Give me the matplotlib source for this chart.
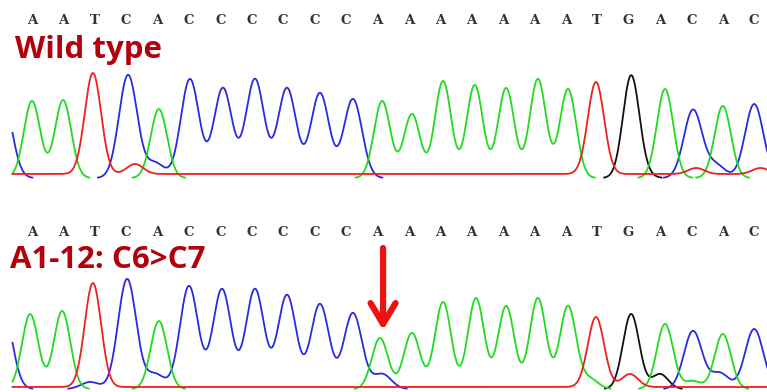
import numpy as np
import matplotlib
matplotlib.use("Agg")
import matplotlib.pyplot as plt

# secuencia leida (igual en los dos paneles)
bases = list("AATCACCCCCCAAAAAAATGACAC")

# picos de cada canal: posicion (en bases) y altura
# panel superior - wild type
wt_A_pos = [0.0, 0.99, 4.04, 11.15, 12.1, 13.09, 14.1, 15.1, 16.11, 17.07, 20.16, 22.0]
wt_A_alt = [77, 78, 69, 77, 64, 97, 93, 90, 99, 89, 89, 72]
wt_C_pos = [-0.93, 3.06, 3.92, 5.03, 6.08, 7.1, 8.12, 9.17, 10.22, 21.05, 21.78, 23.0]
wt_C_alt = [80, 103, 15, 99, 90, 99, 90, 85, 79, 68, 13, 74]
wt_G_pos = [19.08, 19.5]
wt_G_alt = [102, 3]
wt_T_pos = [1.94, 3.28, 17.96, 21.15, 23.2]
wt_T_alt = [101, 10, 92, 6, 6]
wt_T_base = 4

# panel inferior - mutante A1-12
mu_A_pos = [-0.06, 0.96, 4.04, 11.08, 12.1, 13.09, 14.14, 15.1, 16.11, 17.07, 17.77, 20.16, 21.05, 22.0]
mu_A_alt = [75, 78, 68, 51, 56, 87, 91, 83, 91, 83, 10, 65, 8, 55]
mu_C_pos = [-0.93, 1.85, 3.03, 3.92, 5.0, 6.05, 7.1, 8.12, 9.17, 10.22, 11.15, 21.05, 21.9, 23.0]
mu_C_alt = [82, 7, 110, 15, 103, 100, 100, 94, 85, 76, 15, 58, 16, 60]
mu_G_pos = [19.08, 20.0]
mu_G_alt = [75, 15]
mu_T_pos = [1.94, 17.96, 19.04]
mu_T_alt = [104, 70, 13]
mu_T_base = 2

anchos = {"A": 0.26, "C": 0.29, "G": 0.26, "T": 0.26}
colores = {"A": "#1fdc1f", "C": "#2a2ae0", "G": "#111111", "T": "#ee2020"}

x = np.linspace(-0.62, 23.6, 3000)


def traza(pos, alt, s, base=0):
    y = np.full_like(x, float(base))
    for p, h in zip(pos, alt):
        y += h * np.exp(-(x - p) ** 2 / (2 * s ** 2))
    if base == 0:
        # la linea base de estos canales casi no se ve en el original
        y[y < 0.4] = np.nan
    return y


fig = plt.figure(figsize=(7.67, 3.92), dpi=100)

xmin = (0 - 32) / 31.4
xmax = (767 - 32) / 31.4

ax1 = fig.add_axes([0, (392 - 181) / 392, 1, 181 / 392])
ax2 = fig.add_axes([0, 0, 1, 196 / 392])

# el canal G va primero para que no tape la linea base
paneles = [
    (ax1, [("G", wt_G_pos, wt_G_alt, 0), ("C", wt_C_pos, wt_C_alt, 0),
           ("A", wt_A_pos, wt_A_alt, 0), ("T", wt_T_pos, wt_T_alt, wt_T_base)], 178),
    (ax2, [("G", mu_G_pos, mu_G_alt, 0), ("C", mu_C_pos, mu_C_alt, 0),
           ("A", mu_A_pos, mu_A_alt, 0), ("T", mu_T_pos, mu_T_alt, mu_T_base)], 193),
]

for ax, canales, ytop in paneles:
    for canal, pos, alt, base in canales:
        ax.plot(x, traza(pos, alt, anchos[canal], base), color=colores[canal], lw=1.3)
    for i, b in enumerate(bases):
        ax.text(i, 157, b, ha="center", va="center", fontsize=9.5,
                family="DejaVu Serif", fontweight="bold", color="#333333")
    ax.set_xlim(xmin, xmax)
    ax.set_ylim(-3, ytop)
    ax.axis("off")

fig.text(15 / 767, 1 - 50 / 392, "Wild type", fontsize=22.5, fontweight="bold",
         family="Open Sans", color="#b3000c", va="center", ha="left")
fig.text(10 / 767, 1 - 260 / 392, "A1-12: C6>C7", fontsize=22.5, fontweight="bold",
         family="Open Sans", color="#b3000c", va="center", ha="left")

# flecha que marca la C insertada
ax2.annotate("", xy=(11.18, 59), xytext=(11.18, 141),
             arrowprops=dict(arrowstyle="->,head_length=1.5,head_width=0.9",
                             color="#ee1111", lw=4.5, shrinkA=0, shrinkB=0))

fig.savefig("out.png", dpi=100)
